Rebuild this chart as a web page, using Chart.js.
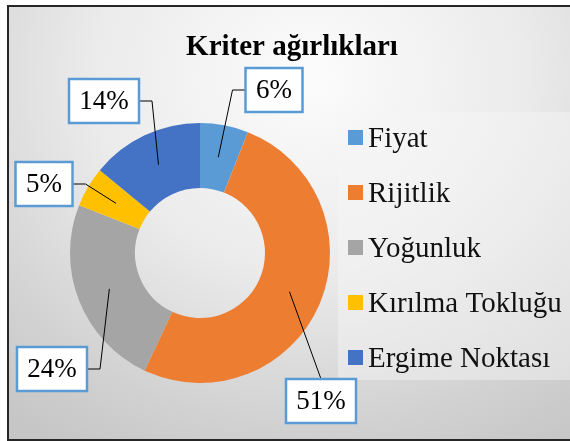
<!DOCTYPE html>
<html>
<head>
<meta charset="utf-8">
<script src="https://cdn.jsdelivr.net/npm/chart.js@4"></script>
<style>
  html,body{margin:0;padding:0;width:570px;height:441px;overflow:hidden;background:#fff}
  .frame{position:absolute;left:7px;top:5px;width:600px;height:432px;border:2px solid #262626;
    background:radial-gradient(ellipse 80% 100% at 50% 16%,#fcfcfc 0%,#ebebeb 45%,#d2d2d2 80%,#c6c6c6 100%)}
  #chart{position:absolute;left:0;top:0}
  .preload{position:absolute;left:-999px;top:0;font-family:"Liberation Serif";font-size:20px}
  .preload b{font-weight:bold}
</style>
</head>
<body>
<div class="frame"></div>
<span class="preload">Ag <b>Ag</b></span>
<canvas id="chart" width="570" height="441"></canvas>
<script>
(function(){
  'use strict';

  /* ── Data ── */
  const chartTitle='Kriter ağırlıkları';
  const categories=['Fiyat','Rijitlik','Yoğunluk','Kırılma Tokluğu','Ergime Noktası'];
  const weights=[6,51,24,5,14];
  const sliceColors=['#5B9BD5','#ED7D31','#A5A5A5','#FFC000','#4472C4'];

  /* label box centres + which side the leader leaves from */
  const labelBoxes=[
    {x:274,y:90,side:'left'},
    {x:321,y:401,side:'top'},
    {x:52,y:369,side:'right'},
    {x:44,y:184,side:'right'},
    {x:104,y:101,side:'right'}
  ];

  const serif='"Liberation Serif","DejaVu Serif",serif';

  /* ── Custom drawing: title, legend, callout labels ── */
  const decor={
    id:'decor',
    beforeDraw(chart){
      const ctx=chart.ctx;
      ctx.save();
      ctx.fillStyle='rgba(246,246,246,0.45)';
      ctx.fillRect(338,112,232,268);
      ctx.restore();
    },
    afterDatasetsDraw(chart){
      const ctx=chart.ctx;
      const meta=chart.getDatasetMeta(0);
      ctx.save();

      /* title */
      ctx.font='bold 29px '+serif;
      ctx.fillStyle='#000';
      ctx.textAlign='center';
      ctx.textBaseline='alphabetic';
      ctx.fillText(chartTitle,292,55);

      /* legend */
      ctx.font='29px '+serif;
      ctx.textAlign='left';
      ctx.textBaseline='middle';
      categories.forEach((c,i)=>{
        const y=138+i*55;
        ctx.fillStyle=sliceColors[i];
        ctx.fillRect(348,y-8,15,15);
        ctx.fillStyle='#111';
        ctx.fillText(c,368,y+1);
      });

      /* callouts */
      ctx.font='27px '+serif;
      const boxH=44;
      meta.data.forEach((arc,i)=>{
        const lb=labelBoxes[i];
        const txt=weights[i]+'%';
        const w=Math.round(ctx.measureText(txt).width)+21;
        const p=arc.getCenterPoint();
        ctx.strokeStyle='#000';
        ctx.lineWidth=1;
        ctx.beginPath();
        if(lb.side==='top'){
          ctx.moveTo(lb.x,lb.y-boxH/2);
        }else{
          const dir=lb.side==='left'?-1:1;
          const ax=lb.x+dir*w/2;
          ctx.moveTo(ax,lb.y);
          ctx.lineTo(ax+dir*13,lb.y);
        }
        ctx.lineTo(p.x,p.y);
        ctx.stroke();

        ctx.fillStyle='#fff';
        ctx.fillRect(lb.x-w/2,lb.y-boxH/2,w,boxH);
        ctx.strokeStyle='#5B9BD5';
        ctx.lineWidth=2.5;
        ctx.strokeRect(lb.x-w/2,lb.y-boxH/2,w,boxH);
        ctx.fillStyle='#000';
        ctx.textAlign='center';
        ctx.textBaseline='middle';
        ctx.fillText(txt,lb.x,lb.y+1);
      });
      ctx.restore();
    }
  };

  function build(){
    new Chart(document.getElementById('chart'),{
      type:'doughnut',
      data:{
        labels:categories,
        datasets:[{
          data:weights,
          backgroundColor:sliceColors,
          borderWidth:0
        }]
      },
      options:{
        responsive:false,
        animation:false,
        cutout:'50%',
        layout:{padding:{left:70,right:240,top:123,bottom:58}},
        plugins:{
          legend:{display:false},
          title:{display:false},
          tooltip:{enabled:false}
        }
      },
      plugins:[decor]
    });
  }

  Promise.all([
    document.fonts.load('29px "Liberation Serif"'),
    document.fonts.load('bold 29px "Liberation Serif"')
  ]).catch(()=>{}).then(build);
})();
</script>
</body>
</html>
